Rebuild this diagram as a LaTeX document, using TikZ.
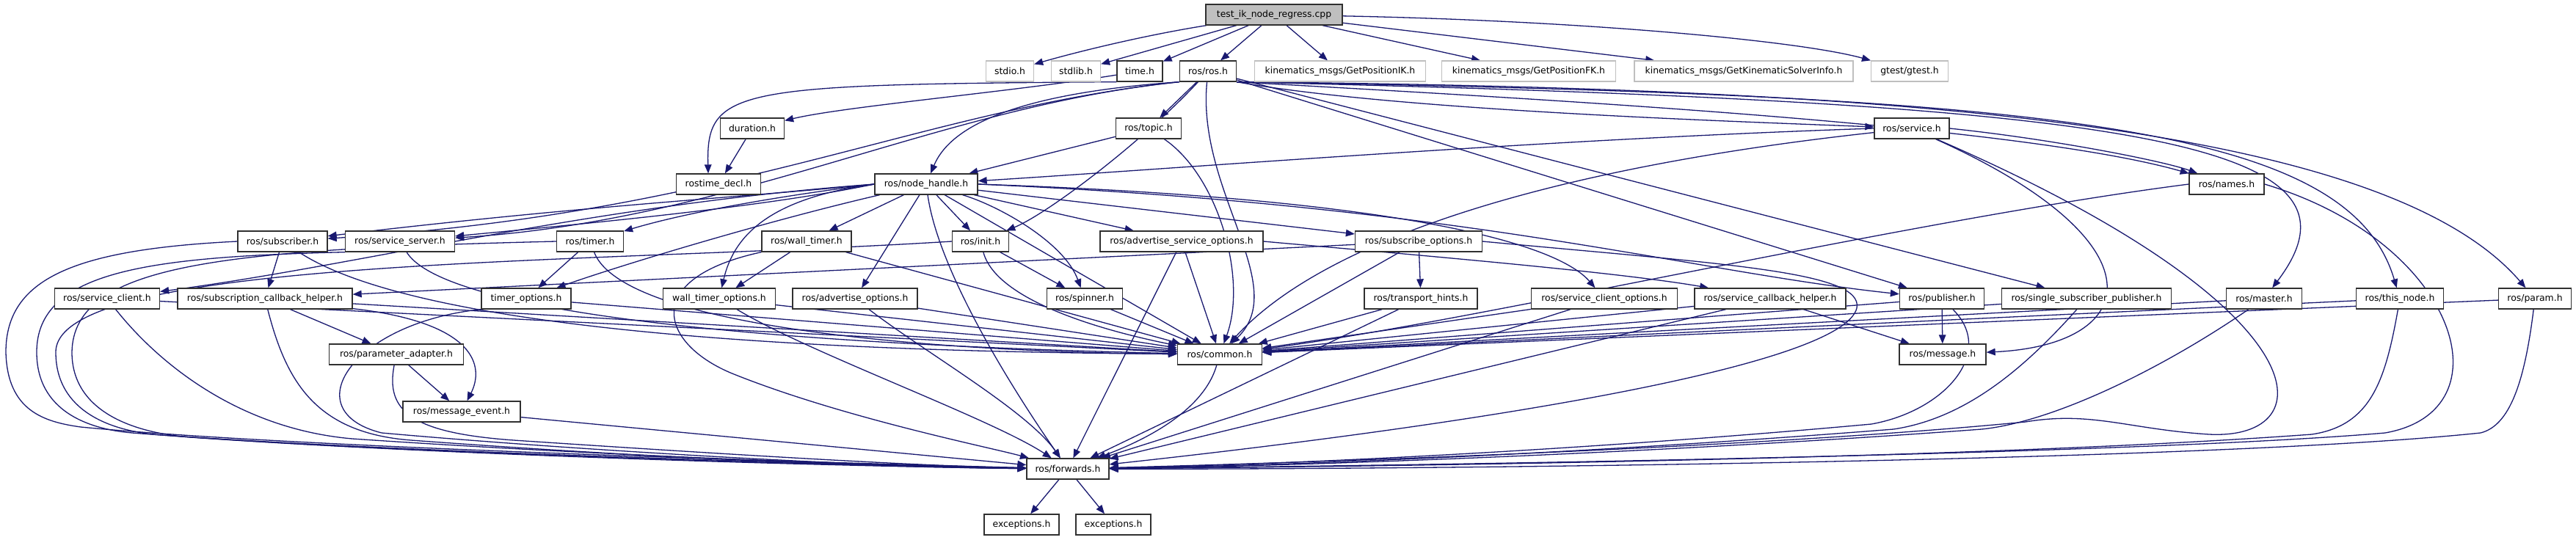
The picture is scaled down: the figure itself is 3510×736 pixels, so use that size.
\documentclass[tikz,border=0pt]{standalone}
\usepackage{fontspec}
\setmainfont{DejaVu Sans}
\usetikzlibrary{arrows.meta}
\pgfdeclarelayer{background}
\pgfdeclarelayer{edges}
\pgfsetlayers{background,edges,main}
\definecolor{edgec}{HTML}{191970}
\definecolor{nfgray}{HTML}{BFBFBF}
\definecolor{rootfill}{HTML}{BFBFBF}
\definecolor{boxline}{HTML}{303030}
\tikzset{
  box/.style={draw=boxline, line width=1.3pt, fill=white, minimum height=28pt, inner sep=0pt,
    font=\fontsize{12.4}{14}\selectfont},
  nfbox/.style={box, draw=nfgray},
  rootbox/.style={box, fill=rootfill},
  edge/.style={draw=edgec, line width=1.3pt, -{Triangle[length=12pt,width=9.5pt]}, fill=none}
}
\begin{document}
\begin{tikzpicture}[x=1pt,y=-1pt]
\begin{pgfonlayer}{background}
\fill[white] (0,0) rectangle (3510,736);
\end{pgfonlayer}
\useasboundingbox (0,0) rectangle (3510,736);
% nodes
\node[rootbox, minimum width=186pt] (root) at (1736,20) {test\_ik\_node\_regress.cpp};
\node[nfbox, minimum width=65pt] (stdio) at (1376,97) {stdio.h};
\node[nfbox, minimum width=67pt] (stdlib) at (1466,97) {stdlib.h};
\node[box, minimum width=62pt] (timeh) at (1553,97) {time.h};
\node[box, minimum width=77pt] (ros) at (1646,97) {ros/ros.h};
\node[nfbox, minimum width=233pt] (gpik) at (1826,97) {kinematics\_msgs/GetPositionIK.h};
\node[nfbox, minimum width=237pt] (gpfk) at (2083,97) {kinematics\_msgs/GetPositionFK.h};
\node[nfbox, minimum width=298pt] (gksi) at (2376,97) {kinematics\_msgs/GetKinematicSolverInfo.h};
\node[nfbox, minimum width=105pt] (gtest) at (2602,97) {gtest/gtest.h};
\node[box, minimum width=87pt] (duration) at (1025,175) {duration.h};
\node[box, minimum width=89pt] (topic) at (1565,175) {ros/topic.h};
\node[box, minimum width=102pt] (service) at (2605,175) {ros/service.h};
\node[box, minimum width=115pt] (rostime) at (979,251) {rostime\_decl.h};
\node[box, minimum width=140pt] (nh) at (1262,251) {ros/node\_handle.h};
\node[box, minimum width=102pt] (names) at (3034,251) {ros/names.h};
\node[box, minimum width=122pt] (sub) at (385,329) {ros/subscriber.h};
\node[box, minimum width=149pt] (ssrv) at (545,329) {ros/service\_server.h};
\node[box, minimum width=91pt] (timer) at (804,329) {ros/timer.h};
\node[box, minimum width=122pt] (wtimer) at (1099,329) {ros/wall\_timer.h};
\node[box, minimum width=77pt] (init) at (1336,329) {ros/init.h};
\node[box, minimum width=222pt] (aso) at (1610,329) {ros/advertise\_service\_options.h};
\node[box, minimum width=173pt] (so) at (1933,329) {ros/subscribe\_options.h};
\node[box, minimum width=143pt] (sc) at (146,407) {ros/service\_client.h};
\node[box, minimum width=238pt] (sch) at (361,407) {ros/subscription\_callback\_helper.h};
\node[box, minimum width=122pt] (to) at (717,407) {timer\_options.h};
\node[box, minimum width=153pt] (wto) at (980,407) {wall\_timer\_options.h};
\node[box, minimum width=170pt] (ao) at (1165,407) {ros/advertise\_options.h};
\node[box, minimum width=103pt] (spin) at (1478,407) {ros/spinner.h};
\node[box, minimum width=154pt] (th) at (1936,407) {ros/transport\_hints.h};
\node[box, minimum width=199pt] (sco) at (2186,407) {ros/service\_client\_options.h};
\node[box, minimum width=206pt] (scbh) at (2412,407) {ros/service\_callback\_helper.h};
\node[box, minimum width=115pt] (pub) at (2646,407) {ros/publisher.h};
\node[box, minimum width=231pt] (ssp) at (2843,407) {ros/single\_subscriber\_publisher.h};
\node[box, minimum width=103pt] (master) at (3085,407) {ros/master.h};
\node[box, minimum width=119pt] (thisn) at (3270,407) {ros/this\_node.h};
\node[box, minimum width=99pt] (param) at (3454,407) {ros/param.h};
\node[box, minimum width=183pt] (pa) at (540,483) {ros/parameter\_adapter.h};
\node[box, minimum width=115pt] (common) at (1662,483) {ros/common.h};
\node[box, minimum width=118pt] (message) at (2647,483) {ros/message.h};
\node[box, minimum width=160pt] (me) at (629,561) {ros/message\_event.h};
\node[box, minimum width=112pt] (fwd) at (1455,639) {ros/forwards.h};
\node[box, minimum width=102pt] (exc1) at (1392,715) {exceptions.h};
\node[box, minimum width=102pt] (exc2) at (1517,715) {exceptions.h};

\begin{pgfonlayer}{edges}
% root
\draw[edge] (root) .. controls (1560,48) and (1470,70) .. (stdio);
\draw[edge] (root) -- (stdlib);
\draw[edge] (root) -- (timeh);
\draw[edge] (root) -- (ros);
\draw[edge] (root) -- (gpik);
\draw[edge] (root) -- (gpfk);
\draw[edge] (root) -- (gksi);
\draw[edge] (root) .. controls (2150,28) and (2450,55) .. (gtest);
% time.h
\draw[edge] (timeh.south west) .. controls (1000,115) and (962,120) .. ([xshift=-14pt]rostime.north);
\draw[edge] (timeh) .. controls (1380,125) and (1150,145) .. (duration);
\draw[edge] (duration) -- (rostime);
% ros.h
\draw[edge] (ros) -- (topic);
\draw[edge] (ros.south west) .. controls (1420,125) and (1300,160) .. (nh);
\draw[edge] (ros.south west) .. controls (1250,150) and (1000,290) .. (sub);
\draw[edge] (ros.south west) .. controls (1280,145) and (1000,300) .. (ssrv);
\draw[edge] (ros) .. controls (1560,190) and (1430,290) .. (init);
\draw[edge] (ros) .. controls (1630,260) and (1760,390) .. (common);
\draw[edge] (ros.south east) .. controls (1900,150) and (2350,165) .. (service);
\draw[edge] (ros.south east) .. controls (2100,135) and (2750,170) .. (names);
\draw[edge] (ros) -- (pub);
\draw[edge] (ros) -- (ssp);
\draw[edge] (ros.south east) .. controls (2900,140) and (3250,190) .. (master);
\draw[edge] (ros.south east) .. controls (2800,130) and (3200,170) .. (thisn);
\draw[edge] (ros.south east) .. controls (2600,120) and (3250,170) .. (param);
% topic
\draw[edge] (topic) -- (nh);
\draw[edge] (topic) .. controls (1660,240) and (1700,380) .. (common);
% service
\draw[edge] (service.west) .. controls (2100,190) and (1600,230) .. (nh);
\draw[edge] (service) .. controls (2100,230) and (1800,330) .. (common);
\draw[edge] (service.east) .. controls (2800,190) and (2950,220) .. (names);
\draw[edge] (service) .. controls (2950,330) and (2920,470) .. (message);
\draw[edge] (service) .. controls (3170,420) and (3170,600) .. (3010,592) .. controls (2900,585) and (2850,560) .. (2760,575) .. controls (2400,610) and (1800,630) .. (fwd);
% names
\draw[edge] (names.west) .. controls (2600,300) and (2000,440) .. (common);
\draw[edge] (names.east) .. controls (3350,330) and (3420,560) .. (3250,590) .. controls (2900,620) and (1900,635) .. (fwd);
% node_handle
\draw[edge] (nh.west) .. controls (1000,270) and (800,280) .. (sub);
\draw[edge] (nh.west) .. controls (1050,280) and (850,300) .. (ssrv);
\draw[edge] (nh.west) .. controls (1000,275) and (900,300) .. (timer);
\draw[edge] (nh) -- (wtimer);
\draw[edge] (nh.west) .. controls (800,280) and (500,360) .. (sc);
\draw[edge] (nh) .. controls (1050,300) and (850,360) .. (to);
\draw[edge] (nh.west) .. controls (1050,270) and (1000,320) .. (wto);
\draw[edge] (nh) -- (ao);
\draw[edge] (nh) -- (init);
\draw[edge] (nh) -- (aso);
\draw[edge] (nh) -- (so);
\draw[edge] (nh) .. controls (1360,280) and (1450,330) .. (spin);
\draw[edge] (nh.east) .. controls (1900,270) and (2120,330) .. (sco);
\draw[edge] (nh.east) .. controls (2000,280) and (2300,370) .. (pub);
\draw[edge] (nh) -- (common);
\draw[edge] (nh) .. controls (1280,380) and (1400,560) .. (fwd);
% subscriber
\draw[edge] (sub) -- (sch);
\draw[edge] (sub) .. controls (600,470) and (1300,480) .. (common);
\draw[edge] (sub.west) .. controls (100,340) and (8,380) .. (8,480) .. controls (10,560) and (60,575) .. (110,582) .. controls (400,610) and (1100,630) .. (fwd);
% service_server
\draw[edge] (ssrv) .. controls (620,450) and (1300,475) .. (common);
\draw[edge] (ssrv.south west) .. controls (200,350) and (50,370) .. (50,480) .. controls (50,560) and (120,585) .. (180,590) .. controls (500,615) and (1100,632) .. (fwd);
% service_client
\draw[edge] (sc) -- (common);
\draw[edge] (sc) .. controls (220,500) and (330,585) .. (480,598) .. controls (800,620) and (1200,635) .. (fwd);
% subscription_callback_helper
\draw[edge] (sch) -- (common);
\draw[edge] (sch) -- (pa);
\draw[edge] (sch) .. controls (650,440) and (660,500) .. (me);
\draw[edge] (sch) .. controls (390,520) and (430,590) .. (560,600) .. controls (900,625) and (1200,637) .. (fwd);
% timer
\draw[edge] (timer) -- (to);
\draw[edge] (timer) .. controls (850,450) and (1300,480) .. (common);
\draw[edge] (timer.west) .. controls (300,340) and (100,360) .. (98,480) .. controls (98,560) and (180,590) .. (260,596) .. controls (600,620) and (1150,636) .. (fwd);
% timer_options
\draw[edge] (to) -- (common);
\draw[edge] (to.south west) .. controls (480,440) and (400,560) .. (520,590) .. controls (800,615) and (1200,637) .. (fwd);
% wall_timer
\draw[edge] (wtimer) -- (wto);
\draw[edge] (wtimer) -- (common);
\draw[edge] (wtimer.south west) .. controls (870,380) and (900,470) .. (1000,510) .. controls (1150,570) and (1350,610) .. (fwd);
% wall_timer_options
\draw[edge] (wto) -- (common);
\draw[edge] (wto) .. controls (1100,480) and (1350,570) .. (fwd);
% advertise_options
\draw[edge] (ao) -- (common);
\draw[edge] (ao) .. controls (1260,480) and (1400,560) .. (fwd);
% init
\draw[edge] (init) -- (spin);
\draw[edge] (init) .. controls (1360,420) and (1550,460) .. (common);
\draw[edge] (init.west) .. controls (800,360) and (76,350) .. (76,480) .. controls (76,560) and (150,588) .. (220,593) .. controls (550,618) and (1120,634) .. (fwd);
% spinner
\draw[edge] (spin) -- (common);
% advertise_service_options
\draw[edge] (aso) -- (common);
\draw[edge] (aso) -- (fwd);
\draw[edge] (aso.east) .. controls (1900,345) and (2200,370) .. (scbh);
% subscribe_options
\draw[edge] (so) -- (sch);
\draw[edge] (so) -- (th);
\draw[edge] (so) -- (common);
\draw[edge] (so.east) .. controls (2350,360) and (2540,370) .. (2530,420) .. controls (2510,500) and (2000,580) .. (fwd);
% transport_hints, service_client_options, service_callback_helper
\draw[edge] (th) -- (common);
\draw[edge] (th) -- (fwd);
\draw[edge] (sco) -- (common);
\draw[edge] (sco) -- (fwd);
\draw[edge] (scbh) -- (message);
\draw[edge] (scbh) -- (common);
\draw[edge] (scbh) -- (fwd);
% publisher
\draw[edge] (pub) -- (message);
\draw[edge] (pub) -- (common);
\draw[edge] (pub) .. controls (2720,480) and (2650,560) .. (2550,578) .. controls (2200,610) and (1800,632) .. (fwd);
% single_subscriber_publisher
\draw[edge] (ssp) -- (common);
\draw[edge] (ssp) .. controls (2760,500) and (2680,570) .. (2580,585) .. controls (2200,615) and (1800,634) .. (fwd);
% master, this_node, param
\draw[edge] (master) -- (common);
\draw[edge] (master) .. controls (2950,500) and (2800,575) .. (2700,585) .. controls (2300,615) and (1800,635) .. (fwd);
\draw[edge] (thisn) -- (common);
\draw[edge] (thisn) .. controls (3250,520) and (3230,580) .. (3150,592) .. controls (2700,625) and (1900,636) .. (fwd);
\draw[edge] (param) -- (common);
\draw[edge] (param) .. controls (3440,520) and (3420,580) .. (3380,590) .. controls (3000,630) and (1900,640) .. (fwd);
% parameter_adapter, message_event
\draw[edge] (pa) -- (me);
\draw[edge] (pa) .. controls (525,560) and (560,590) .. (700,600) .. controls (1000,620) and (1250,635) .. (fwd);
\draw[edge] (me) -- (fwd);
% common, forwards
\draw[edge] (common) .. controls (1640,560) and (1560,600) .. (fwd);
\draw[edge] (fwd) -- (exc1);
\draw[edge] (fwd) -- (exc2);
\end{pgfonlayer}
\end{tikzpicture}
\end{document}
